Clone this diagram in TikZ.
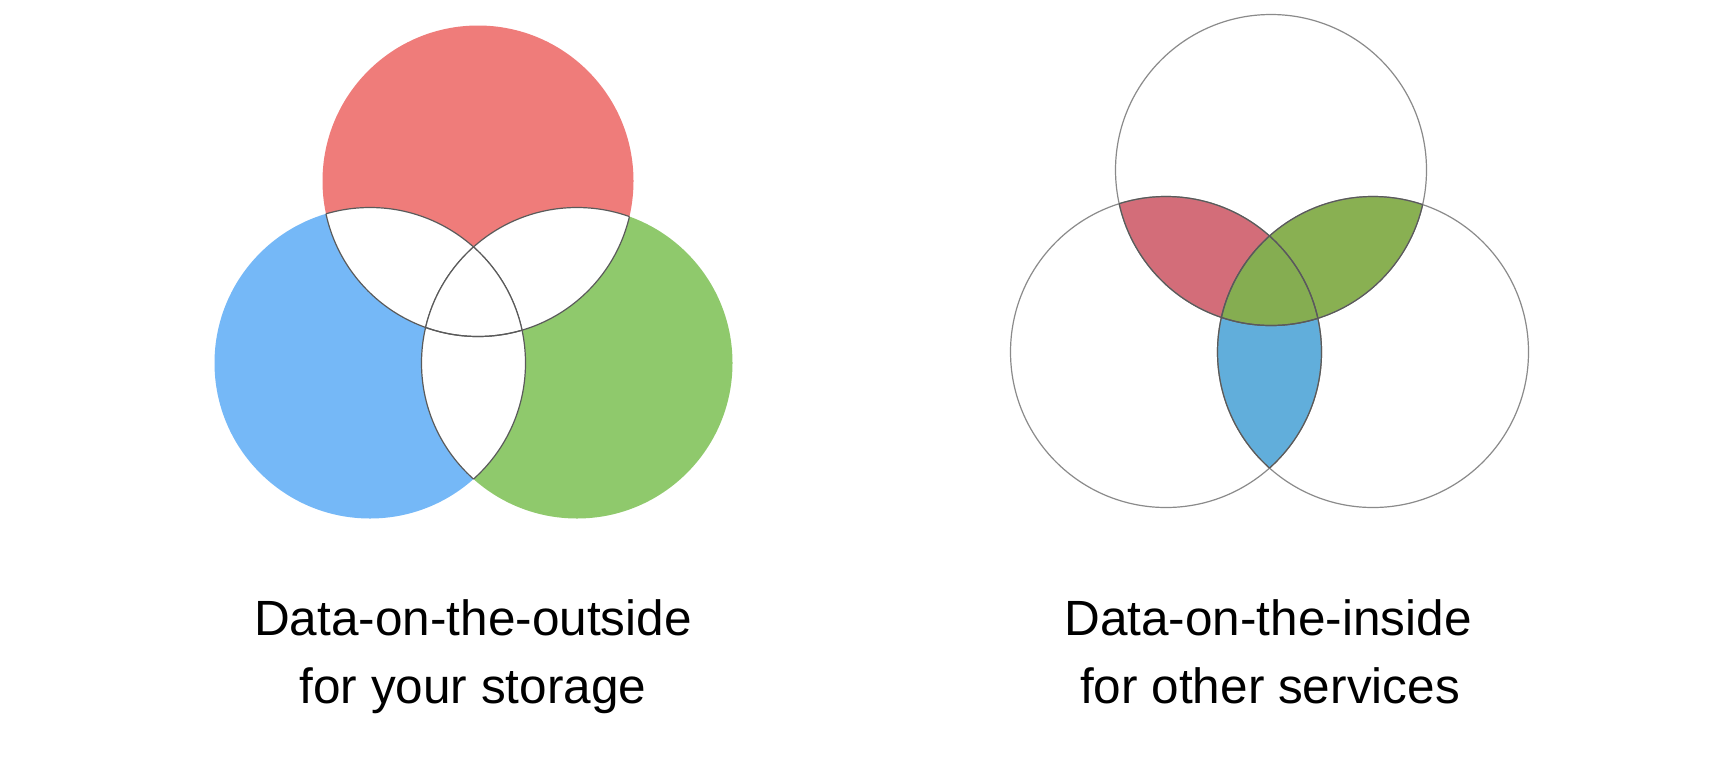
\documentclass[tikz,border=0pt]{standalone}
\usepackage{fontspec}
\setmainfont{Liberation Sans}
\definecolor{outred}{HTML}{EF7C7A}
\definecolor{outblue}{HTML}{75B8F7}
\definecolor{outgreen}{HTML}{8FC96C}
\definecolor{inred}{HTML}{D36D79}
\definecolor{ingreen}{HTML}{89B052}
\definecolor{inblue}{HTML}{61AEDB}
\definecolor{inmid}{HTML}{85AD51}
\definecolor{lensline}{HTML}{5A5A5A}
\definecolor{ringline}{HTML}{8A8A8A}
\tikzset{
  lens/.style={draw=lensline, line width=1.2pt},
  ring/.style={draw=ringline, line width=1.2pt},
  caption/.style={anchor=base, inner sep=0pt, font=\fontsize{49.5}{68}\selectfont}
}
\begin{document}
\begin{tikzpicture}[x=1pt, y=-1pt]
    \fill [white] (0,0) rectangle (1712,780);
    \useasboundingbox (0,0) rectangle (1712,780);
    % left diagram
    \coordinate (R) at (478,181);
    \coordinate (B) at (370,363);
    \coordinate (G) at (577,363);
    \fill [outred]   (R) circle (155.5);
    \fill [outblue]  (B) circle (155.5);
    \fill [outgreen] (G) circle (155.5);
    \begin{scope}
        \clip (R) circle (155.5);
        \fill [white] (B) circle (155.5);
        \fill [white] (G) circle (155.5);
        \draw [lens] (B) circle (155.5);
        \draw [lens] (G) circle (155.5);
    \end{scope}
    \begin{scope}
        \clip (B) circle (155.5);
        \fill [white] (G) circle (155.5);
        \draw [lens] (R) circle (155.5);
        \draw [lens] (G) circle (155.5);
    \end{scope}
    \begin{scope}
        \clip (G) circle (155.5);
        \draw [lens] (R) circle (155.5);
        \draw [lens] (B) circle (155.5);
    \end{scope}
    % right diagram
    \coordinate (T) at (1271,170);
    \coordinate (L) at (1166,352);
    \coordinate (K) at (1373,352);
    \begin{scope}
        \clip (T) circle (155.5);
        \fill [inred]   (L) circle (155.5);
        \fill [ingreen] (K) circle (155.5);
    \end{scope}
    \begin{scope}
        \clip (L) circle (155.5);
        \fill [inblue] (K) circle (155.5);
        \clip (K) circle (155.5);
        \fill [inmid] (T) circle (155.5);
    \end{scope}
    \draw [ring] (T) circle (155.5);
    \draw [ring] (L) circle (155.5);
    \draw [ring] (K) circle (155.5);
    \begin{scope}
        \clip (T) circle (155.5);
        \draw [lens] (L) circle (155.5);
        \draw [lens] (K) circle (155.5);
    \end{scope}
    \begin{scope}
        \clip (L) circle (155.5);
        \draw [lens] (T) circle (155.5);
        \draw [lens] (K) circle (155.5);
    \end{scope}
    \begin{scope}
        \clip (K) circle (155.5);
        \draw [lens] (T) circle (155.5);
        \draw [lens] (L) circle (155.5);
    \end{scope}
    % captions
    \node (outtop) [caption] at (473,635) {Data-on-the-outside};
    \node (outbot) [caption] at (473,703) {for your storage};
    \node (intop)  [caption] at (1268,635) {Data-on-the-inside};
    \node (inbot)  [caption] at (1270,703) {for other services};
\end{tikzpicture}
\end{document}
